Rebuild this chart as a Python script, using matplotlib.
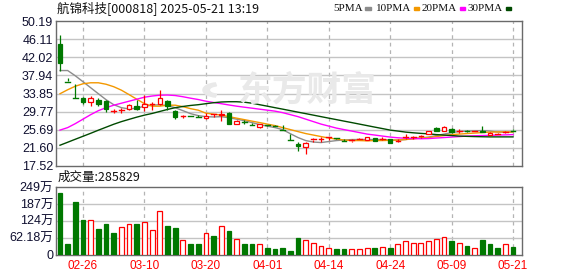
import matplotlib
matplotlib.use("Agg")
import matplotlib.pyplot as plt
from matplotlib.patches import Rectangle, Wedge
import numpy as np

# ---------------- data ----------------
title = "航锦科技[000818] 2025-05-21 13:19"
vol_title = "成交量:285829"
tick_idx = [3, 11, 19, 27, 35, 43, 51, 59]
tick_labels = ["02-26", "03-10", "03-20", "04-01", "04-14", "04-24", "05-09", "05-21"]

opens = [45.03, 36.60, 32.90, 32.75, 31.94, 32.46, 32.08, 29.99, 30.20, 30.37,
         31.11, 30.82, 31.50, 31.56, 32.08, 29.83, 28.68, 28.90, 28.62, 28.27,
         29.25, 28.94, 29.47, 27.07, 27.50, 26.75, 26.33, 26.75, 26.50, 25.78,
         23.40, 22.40, 21.70, 23.45, 23.60, 23.95, 23.95, 23.15, 23.25, 23.45,
         23.45, 23.75, 23.65, 23.55, 23.20, 23.85, 23.95, 24.15, 24.80, 26.15,
         25.50, 25.95, 25.30, 25.45, 25.25, 25.35, 24.45, 24.60, 25.10, 25.55]
highs = [47.05, 37.33, 36.05, 32.97, 33.20, 32.84, 32.46, 30.44, 30.70, 31.56,
         32.46, 33.58, 31.85, 34.70, 32.30, 30.21, 29.10, 29.10, 29.09, 29.47,
         29.30, 30.05, 29.70, 27.94, 27.97, 27.30, 27.00, 26.80, 26.85, 26.85,
         24.80, 22.90, 22.90, 23.80, 24.08, 24.05, 24.00, 23.65, 23.55, 23.80,
         24.00, 23.80, 24.00, 23.70, 23.55, 24.80, 24.30, 24.50, 25.45, 26.30,
         26.45, 26.10, 25.75, 25.70, 25.45, 26.60, 25.10, 24.90, 25.50, 25.80]
lows = [39.03, 36.50, 32.80, 31.55, 31.10, 31.10, 29.60, 29.47, 29.47, 30.06,
        30.21, 29.83, 30.21, 31.33, 30.20, 28.10, 28.35, 28.70, 28.57, 28.10,
        28.50, 27.60, 27.00, 27.00, 27.07, 26.65, 26.10, 26.60, 26.45, 25.70,
        23.30, 21.00, 20.30, 22.96, 23.03, 23.40, 23.60, 23.10, 22.90, 23.40,
        23.35, 23.20, 23.30, 22.60, 22.90, 23.50, 23.60, 23.90, 24.70, 25.40,
        25.40, 25.05, 24.95, 25.10, 25.10, 25.10, 24.40, 24.40, 24.85, 25.30]
closes = [40.70, 36.50, 32.80, 31.85, 32.84, 31.55, 30.30, 29.99, 30.21, 31.27,
          30.37, 31.40, 31.56, 32.84, 30.95, 28.57, 28.70, 28.87, 28.57, 28.87,
          29.27, 29.25, 27.07, 27.75, 27.45, 26.65, 26.92, 26.65, 26.45, 25.70,
          23.30, 22.10, 22.60, 23.50, 23.63, 24.00, 23.90, 23.10, 23.30, 23.50,
          23.95, 23.25, 23.70, 22.75, 23.25, 23.95, 24.00, 24.20, 25.35, 25.50,
          26.24, 25.20, 25.35, 25.40, 25.30, 25.10, 24.98, 24.65, 25.20, 25.50]

volumes = [228, 37, 192, 127, 127, 95, 114, 78, 102, 114,
           114, 120, 91, 160, 106, 96, 52, 40, 37, 79,
           68, 104, 88, 58, 37, 37, 40, 25, 19, 23,
           12, 62, 52, 44, 30, 25, 19, 22, 22, 22,
           25, 23, 28, 25, 40, 50, 43, 43, 48, 58,
           64, 48, 43, 32, 25, 54, 40, 25, 40, 28.58]
vol_up = list("ggggrgggrr" "grrrggrggr" "grgrggrggg"
              "ggrrrrggrr" "rgrgrrrrrr" "rgrgrgggrg")

ma5 = [39.03, 39.03, 37.84, 36.50, 35.15, 33.80, 32.46, 31.33, 30.66, 30.37,
       30.55, 31.00, 31.22, 31.33, 31.10, 30.66, 29.99, 29.32, 28.87, 28.64,
       28.57, 28.64, 28.40, 28.07, 27.74, 27.30, 26.85, 26.50, 26.17, 25.72,
       24.80, 23.93, 23.25, 22.92, 22.80, 23.03, 23.25, 23.37, 23.48, 23.48,
       23.48, 23.48, 23.48, 23.37, 23.37, 23.48, 23.70, 23.86, 24.04, 24.37,
       24.71, 25.05, 25.28, 25.39, 25.43, 25.50, 25.39, 25.16, 25.16, 25.16]
ma10 = [33.80, 34.70, 35.50, 36.05, 36.27, 36.27, 35.94, 35.38, 34.60, 33.60,
        32.57, 31.56, 31.00, 31.00, 31.22, 31.22, 30.90, 30.44, 30.10, 29.43,
        29.20, 28.98, 28.64, 28.30, 27.97, 27.63, 27.30, 26.96, 26.62, 26.17,
        25.72, 25.27, 24.83, 24.49, 24.15, 23.82, 23.59, 23.37, 23.25, 23.25,
        23.19, 23.25, 23.25, 23.30, 23.37, 23.48, 23.64, 23.82, 23.93, 24.15,
        24.38, 24.60, 24.71, 24.83, 24.94, 25.05, 25.16, 25.20, 25.20, 25.20]
ma20 = [25.61, 26.17, 27.07, 28.08, 29.09, 29.99, 30.66, 31.22, 31.67, 32.12,
        32.57, 33.02, 33.29, 33.47, 33.51, 33.40, 33.13, 32.80, 32.50, 32.12,
        31.83, 31.56, 31.27, 31.00, 30.77, 30.55, 30.32, 30.10, 29.88, 29.54,
        29.09, 28.64, 28.08, 27.52, 26.96, 26.51, 26.06, 25.72, 25.39, 25.05,
        24.71, 24.49, 24.26, 24.04, 23.88, 23.77, 23.70, 23.66, 23.70, 23.82,
        23.93, 24.04, 24.15, 24.26, 24.33, 24.38, 24.42, 24.49, 24.53, 24.60]
ma30 = [22.20, 22.87, 23.55, 24.22, 24.89, 25.59, 26.26, 26.93, 27.52, 28.03,
        28.53, 28.98, 29.36, 29.81, 30.26, 30.66, 30.93, 31.16, 31.33, 31.56,
        31.78, 31.94, 32.00, 32.00, 31.90, 31.67, 31.33, 31.00, 30.66, 30.33,
        29.99, 29.65, 29.32, 28.98, 28.64, 28.30, 27.97, 27.63, 27.30, 26.96,
        26.62, 26.28, 25.95, 25.61, 25.39, 25.16, 25.00, 24.87, 24.76, 24.60,
        24.49, 24.38, 24.26, 24.20, 24.15, 24.11, 24.08, 24.08, 24.08, 24.08]

price_ticks = [17.52, 21.60, 25.69, 29.77, 33.85, 37.94, 42.02, 46.11, 50.19]
vol_ticks = [0, 62.18, 124.36, 186.54, 248.72]
vol_tick_labels = ["0", "62.18万", "124万", "187万", "249万"]
legend_names = ["5PMA", "10PMA", "20PMA", "30PMA"]

# ---------------- style ----------------
RED = "#ff0000"
GREEN = "#007800"
ma_colors = ["#8c8c8c", "#f39800", "#ff00ff", "#004a00"]
GRID = "#c4c4c4"
FRAME = "#6a6a6a"
CJK = ["Liberation Sans", "Noto Sans CJK SC", "DejaVu Sans"]

W, H = 578, 276
fig = plt.figure(figsize=(W / 100, H / 100), dpi=100)
fig.patch.set_facecolor("white")

def fx(px):
    return px / W

def fy(py):
    return 1 - py / H

L, R = 56, 522
axp = fig.add_axes([fx(L), fy(166), fx(R - L), (166 - 21) / H])
axv = fig.add_axes([fx(L), fy(254.5), fx(R - L), (254.5 - 187) / H])
axp.patch.set_alpha(0)

n = len(closes)
x = np.arange(n)
xlim = (-0.52, 60.17)

for ax in (axp, axv):
    ax.set_xlim(*xlim)
    for s in ax.spines.values():
        s.set_color(FRAME)
        s.set_linewidth(1.0)
    for t in tick_idx:
        ax.axvline(t, color="#b4b4b4", lw=0.9, ls=(0, (3, 3)), zorder=1)
    ax.tick_params(length=0)

# watermark (behind price axes)
fig.text(fx(307), fy(90), "东方财富", family=["Noto Sans CJK SC"], fontweight="bold",
         fontsize=25, color="#e9e9e9", ha="center", va="center", zorder=0)
fig.patches.append(Wedge((fx(218), fy(90)), 0.026, 100, 260, width=0.011,
                         transform=fig.transFigure, color="#e9e9e9", zorder=0))

# price panel
axp.set_ylim(price_ticks[0], price_ticks[-1])
axp.set_yticks(price_ticks)
axp.set_yticklabels([f"{v:.2f}" for v in price_ticks], family=CJK, fontsize=9, color="#101030")
axp.tick_params(axis="y", pad=2)
axp.set_xticks([])
for v in price_ticks[1:-1]:
    axp.axhline(v, color=GRID, lw=1.0, zorder=1)

# MA lines
for vals, c in zip([ma5, ma10, ma20, ma30], ma_colors):
    axp.plot(x, vals, color=c, lw=1.0, zorder=3)

# candles
bw = 0.6
for i in range(n):
    o, h, l, c = opens[i], highs[i], lows[i], closes[i]
    up = c >= o
    col = RED if up else GREEN
    lo_b, hi_b = min(o, c), max(o, c)
    axp.plot([i, i], [hi_b, h], color=col, lw=0.9, zorder=4, solid_capstyle="butt")
    axp.plot([i, i], [l, lo_b], color=col, lw=0.9, zorder=4, solid_capstyle="butt")
    if hi_b - lo_b < 0.12:
        axp.plot([i - bw / 2, i + bw / 2], [c, c], color=col, lw=1.0, zorder=5)
    else:
        axp.add_patch(Rectangle((i - bw / 2, lo_b), bw, hi_b - lo_b,
                                facecolor="white" if up else col, edgecolor=col,
                                lw=0.9, zorder=5))

# volume panel
axv.set_ylim(0, vol_ticks[-1])
axv.set_yticks(vol_ticks)
axv.set_yticklabels(vol_tick_labels, family=CJK, fontsize=9, color="#101030")
axv.tick_params(axis="y", pad=2)
for v in vol_ticks[1:-1]:
    axv.axhline(v, color=GRID, lw=1.0, zorder=1)
vw = 0.62
for i in range(n):
    up = vol_up[i] == "r"
    col = RED if up else GREEN
    axv.bar(i, volumes[i], width=vw, facecolor="white" if up else col,
            edgecolor=col, lw=0.9, zorder=3)
axv.set_xticks(tick_idx)
axv.set_xticklabels(tick_labels, family=CJK, fontsize=8.5, color=RED)
axv.tick_params(axis="x", pad=4)

# titles
fig.text(fx(57), fy(9), title, family=["Noto Sans CJK SC", "DejaVu Sans"],
         fontsize=9, color="#111111", ha="left", va="center")
fig.text(fx(58), fy(177), vol_title, family=["Noto Sans CJK SC", "DejaVu Sans"],
         fontsize=9, color="#111111", ha="left", va="center")

# legend
sq_x = [365, 413.5, 459.5, 505.5]
for name, sx, c in zip(legend_names, sq_x, ma_colors):
    fig.text(fx(sx - 2.5), fy(8.5), name, family=["Liberation Serif"], fontsize=8,
             color="#111111", ha="right", va="center")
    fig.patches.append(Rectangle((fx(sx), fy(10)), fx(5.5), 3 / H,
                                 transform=fig.transFigure, color=c))

fig.savefig("out.png", dpi=100, facecolor="white")
